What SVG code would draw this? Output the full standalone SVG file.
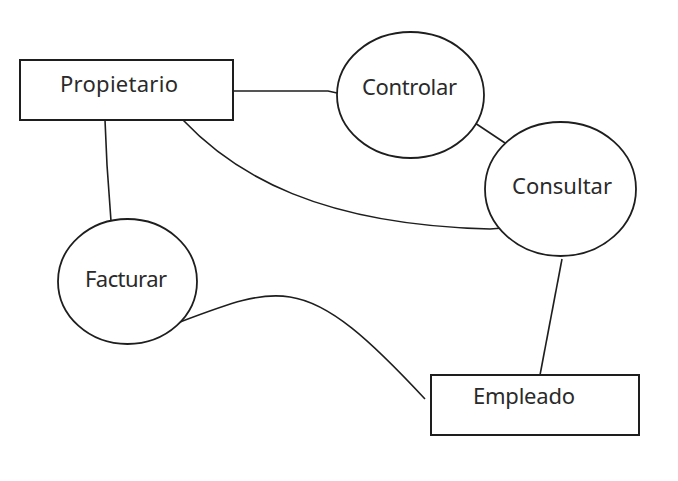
<svg xmlns="http://www.w3.org/2000/svg" width="678" height="481" viewBox="0 0 678 481">
<style>
.box{fill:#fff;stroke:#1e1e1e;stroke-width:2}
.proc{fill:#fff;stroke:#1e1e1e;stroke-width:1.8}
.lbl{font-family:"Noto Sans","Open Sans",sans-serif;font-size:22px;fill:#2a2a2a}
.con{fill:none;stroke:#1e1e1e;stroke-width:1.6}
</style>
<rect width="678" height="481" fill="#fff"/>
<g id="connectors">
<polyline class="con" points="233,91 328,91 337,93"/>
<polyline class="con" points="105,120 107,165 111,221"/>
<path class="con" d="M183,120 C235,175 320,225 490,229 L503,228"/>
<line class="con" x1="475" y1="123" x2="505" y2="143"/>
<line class="con" x1="562" y1="259" x2="540" y2="375"/>
<path class="con" d="M180,322 C230,303 260,292 290,297 C330,303 370,340 425,399"/>
</g>
<g id="propietario">
<rect class="box" x="20" y="60" width="213" height="60"/>
<text class="lbl" x="60" y="92" textLength="118">Propietario</text>
</g>
<g id="controlar">
<ellipse class="proc" cx="410.5" cy="95" rx="73.5" ry="63"/>
<text class="lbl" x="362" y="95" textLength="95">Controlar</text>
</g>
<g id="consultar">
<ellipse class="proc" cx="560.5" cy="189" rx="75.5" ry="67"/>
<text class="lbl" x="512" y="194" textLength="100">Consultar</text>
</g>
<g id="facturar">
<ellipse class="proc" cx="127.5" cy="281.5" rx="69.5" ry="62.5"/>
<text class="lbl" x="85" y="287" textLength="82">Facturar</text>
</g>
<g id="empleado">
<rect class="box" x="431" y="375" width="208" height="60"/>
<text class="lbl" x="473" y="404" textLength="102">Empleado</text>
</g>
</svg>
